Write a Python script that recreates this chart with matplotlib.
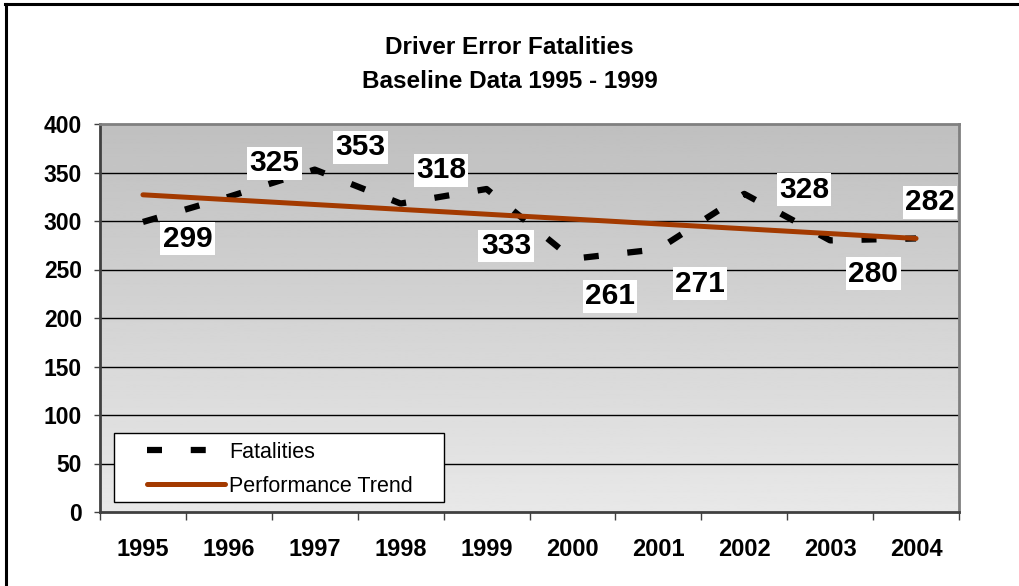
import matplotlib.pyplot as plt
from matplotlib.lines import Line2D
from matplotlib.patches import Rectangle
import numpy as np

plt.rcParams['font.family'] = ['Liberation Sans', 'DejaVu Sans']

years = ['1995', '1996', '1997', '1998', '1999', '2000', '2001', '2002', '2003', '2004']
fatalities = [299, 325, 353, 318, 333, 261, 271, 328, 280, 282]
trend_ends = [327, 282]

# label offsets in points (dx, dy) from each data point
label_offsets = [(32, -12), (33, 24), (33, 16), (29, 24), (14, -41),
                 (27, -27), (30, -25), (43, 3), (31, -24), (10, 26)]

fig = plt.figure(figsize=(10.19, 5.86), dpi=100)
ax = fig.add_axes([100 / 1019, 1 - 512 / 586, 859 / 1019, 388 / 586])

x = np.arange(len(years))
ax.set_xlim(-0.5, len(years) - 0.5)
ax.set_ylim(0, 400)

# gray gradient background, darker at top
grad = np.linspace(0.91, 0.75, 256).reshape(-1, 1)
ax.imshow(grad, cmap='gray', vmin=0, vmax=1, aspect='auto', origin='lower',
          extent=[-0.5, len(years) - 0.5, 0, 400], zorder=0)

for v in range(50, 400, 50):
    ax.axhline(v, color='black', lw=1, zorder=1)

ax.plot(x, fatalities, color='black', lw=4.5, ls=(0, (2.4, 4.6)),
        dash_capstyle='butt', zorder=3, label='Fatalities')
ax.plot([x[0], x[-1]], trend_ends, color='#A33A00', lw=3.6,
        solid_capstyle='round', zorder=4, label='Performance Trend')

for xi, v, (dx, dy) in zip(x, fatalities, label_offsets):
    ax.annotate(str(v), (xi, v), xytext=(dx, dy), textcoords='offset points',
                ha='center', va='center', fontsize=21.5, fontweight='bold',
                bbox=dict(boxstyle='square,pad=0.08', fc='white', ec='none'),
                zorder=5)

ax.set_yticks(range(0, 401, 50))
ax.set_xticks(np.arange(-0.5, len(years)), labels=[])
ax.set_xticks(x, labels=years, minor=True)
ax.tick_params(axis='y', length=4.5, width=1, pad=8.5, labelsize=16.5, color='#404040')
ax.tick_params(axis='x', which='major', length=6, width=1, color='#404040')
ax.tick_params(axis='x', which='minor', length=0, pad=19, labelsize=17)
for lab in ax.get_yticklabels() + ax.get_xticklabels(minor=True):
    lab.set_fontweight('bold')

for s in ax.spines.values():
    s.set_color('#808080')
    s.set_linewidth(2)
ax.spines['bottom'].set_color('#404040')
ax.spines['left'].set_color('#404040')

# legend box drawn separately so the handles sit well inside it
ax.add_patch(Rectangle((14 / 859, 10 / 388), 330 / 859, 69 / 388,
                       transform=ax.transAxes, fc='white', ec='black', lw=1,
                       zorder=6))
leg = ax.legend(loc='upper left', bbox_to_anchor=(47 / 859, (512 - 442) / 388),
                fontsize=15.5, frameon=False, handlelength=3.6,
                handletextpad=0.2, borderpad=0, labelspacing=0.6,
                borderaxespad=0)
leg.set_zorder(7)

fig.text(0.5, 1 - 47 / 586, 'Driver Error Fatalities', ha='center', va='center',
         fontsize=17.5, fontweight='bold')
fig.text(0.5, 1 - 82 / 586, 'Baseline Data 1995 - 1999', ha='center', va='center',
         fontsize=17.5, fontweight='bold')

# cropped outer frame: only top and left edges show
fig.add_artist(Line2D([5 / 1019, 1], [1 - 4 / 586, 1 - 4 / 586], color='black', lw=2.2))
fig.add_artist(Line2D([6 / 1019, 6 / 1019], [0, 1 - 4 / 586], color='black', lw=2.2))

fig.savefig('out.png', dpi=100)
